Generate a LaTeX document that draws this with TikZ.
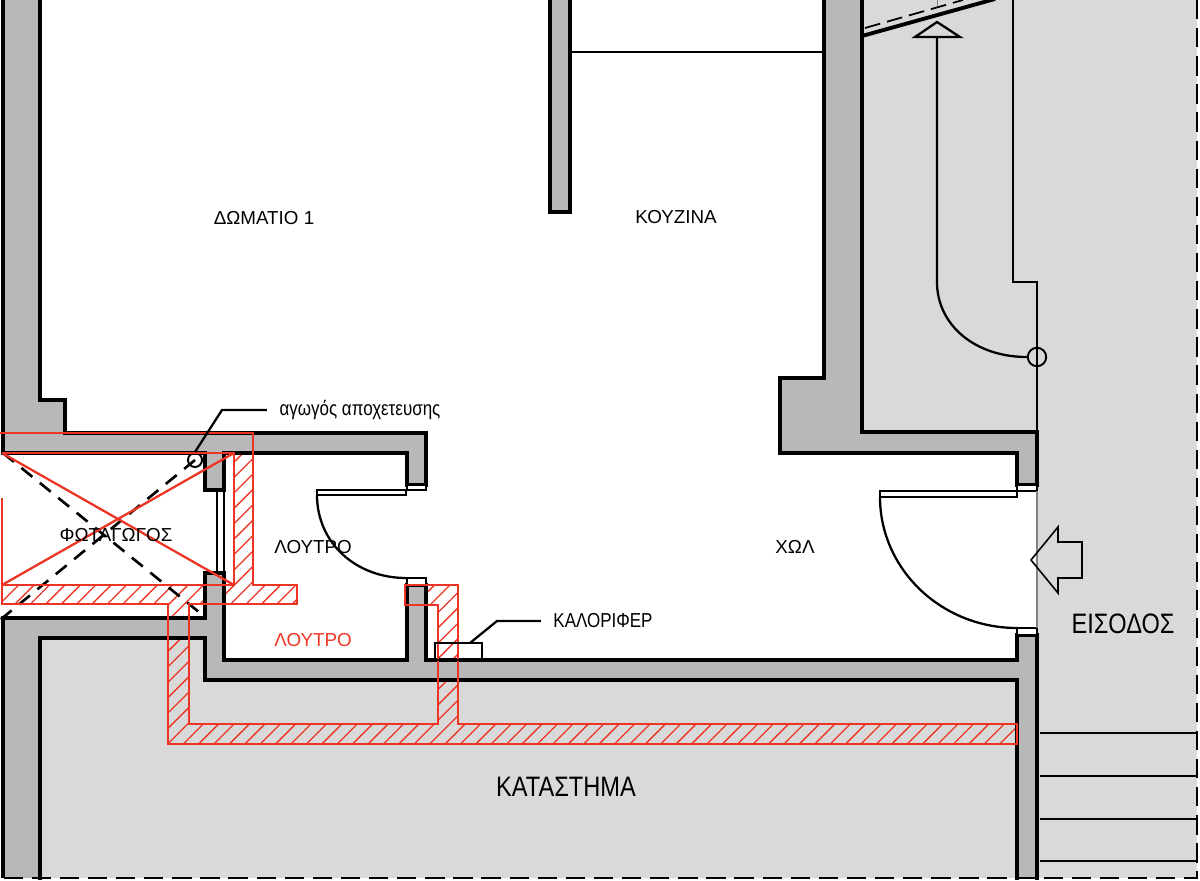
\documentclass[tikz,border=0pt]{standalone}
\usepackage{fontspec}
\setmainfont{Liberation Sans}
\newfontfamily\narrowfont[FakeStretch=0.84]{Liberation Sans}
\usepackage{tikz}
\usetikzlibrary{patterns.meta,positioning}
\definecolor{wallgray}{HTML}{B8B8B8}
\definecolor{yardgray}{HTML}{D9D9D9}
\definecolor{pipered}{HTML}{EE3424}

\begin{document}
\begin{tikzpicture}[
  x=0.02cm, y=-0.02cm,
  wallfill/.style={fill=wallgray},
  wall/.style={line width=2.8pt, line join=miter},
  thin line/.style={line width=1.3pt},
  leader/.style={line width=1.3pt},
  door/.style={line width=1.3pt, fill=white},
  boundary/.style={line width=1.6pt, dash pattern=on 11pt off 5pt},
  shaft/.style={line width=1.5pt, dash pattern=on 8pt off 5.5pt},
  hatch/.style={pattern={Lines[angle=45,distance=6.2pt,line width=0.75pt]}, pattern color=pipered},
  pipe/.style={line width=1.3pt, draw=pipered},
  room/.style={font=\fontsize{10.7}{12}\selectfont},
  note/.style={font=\narrowfont\fontsize{11.5}{13}\selectfont, inner xsep=7pt},
  big/.style={font=\narrowfont\fontsize{16}{18}\selectfont}
]
\clip (0,0) rectangle (1200,881);

% ground
\fill[yardgray] (862,0) rectangle (1197,432);
\fill[yardgray] (1037,432) rectangle (1197,878);
\fill[yardgray] (40,638) -- (205,638) -- (205,680) -- (1017,680) -- (1017,878) -- (40,878) -- cycle;

% pipe run, hatching under the walls
\path[hatch] (2,585) -- (234,585) -- (234,453) -- (253,453) -- (253,585) -- (297,585) -- (297,604)
  -- (189,604) -- (189,724) -- (438,724) -- (438,605) -- (405,605) -- (405,585) -- (458,585)
  -- (458,724) -- (1017,724) -- (1017,744) -- (168,744) -- (168,604) -- (2,604) -- cycle;

% walls
\fill[wallfill] (3,-5) -- (40,-5) -- (40,400) -- (65,400) -- (65,433) -- (426,433) -- (426,485)
  -- (407,485) -- (407,453) -- (224,453) -- (224,490) -- (205,490) -- (205,453) -- (3,453) -- cycle;
\fill[wallfill] (3,618) -- (205,618) -- (205,573) -- (224,573) -- (224,660) -- (407,660) -- (407,585)
  -- (426,585) -- (426,660) -- (1017,660) -- (1017,635) -- (1037,635) -- (1037,878) -- (1017,878)
  -- (1017,680) -- (205,680) -- (205,638) -- (40,638) -- (40,878) -- (3,878) -- cycle;
\fill[wallfill] (550,-5) rectangle (570,212);
\fill[wallfill] (824,-5) -- (862,-5) -- (862,432) -- (1037,432) -- (1037,485) -- (1017,485)
  -- (1017,453) -- (780,453) -- (780,378) -- (824,378) -- cycle;

\draw[wall] (3,-5) -- (3,453) -- (205,453) -- (205,490) -- (224,490) -- (224,453) -- (407,453) -- (407,485) -- (426,485) -- (426,433) -- (65,433) -- (65,400) -- (40,400) -- (40,-5);
\draw[wall] (3,878) -- (3,618) -- (205,618) -- (205,573) -- (224,573) -- (224,660) -- (407,660) -- (407,585) -- (426,585) -- (426,660) -- (1017,660) -- (1017,635) -- (1037,635) -- (1037,880);
\draw[wall] (40,880) -- (40,638) -- (205,638) -- (205,680) -- (1017,680) -- (1017,880);
\draw[wall] (550,-5) -- (550,212) -- (570,212) -- (570,-5);
\draw[wall] (824,-5) -- (824,378) -- (780,378) -- (780,453) -- (1017,453) -- (1017,485) -- (1037,485) -- (1037,432) -- (862,432) -- (862,-5);

% window of the shaft
\draw[line width=1.5pt] (217,490) -- (217,573);
\draw[line width=0.8pt] (224,490) -- (224,573);

% doors
\draw[door] (407,485) rectangle (426,490);
\draw[door] (407,578) rectangle (426,585);
\draw[door] (317,490) rectangle (406,495);
\draw[thin line] (317,495) .. controls (317,543) and (356,578) .. (406,578);
\draw[door] (1017,485) rectangle (1037,491);
\draw[door] (1017,628) rectangle (1037,635);
\draw[door] (880,491) rectangle (1017,497);
\draw[thin line] (880,497) .. controls (880,569) and (941,628) .. (1017,628);
\draw[line width=0.6pt, draw=gray] (1037,491) -- (1037,628);

% kitchen and stair
\draw[thin line] (570,52) -- (824,52);
\draw[line width=2.2pt] (862,36) -- (995,-1);
\draw[line width=1pt, dash pattern=on 9pt off 4pt] (865,28) -- (963,0);
\draw[line width=0.4pt, draw=gray] (937,0) -- (937,6);
\draw[thin line] (1013,0) -- (1013,282) -- (1037,282) -- (1037,432);
\draw[thin line] (915,37) -- (937,22) -- (960,37) -- cycle;
\node[circle, draw, line width=1.1pt, minimum size=10.5pt, inner sep=0pt] (post) at (1037,357) {};
\draw[thin line] (937,37) -- (937,282) .. controls (937,325) and (975,357) .. (post.west);
\draw[line width=0.9pt] (1031,560) -- (1058,527) -- (1058,542) -- (1082,542) -- (1082,578) -- (1058,578) -- (1058,593) -- cycle;
\foreach \ystep in {733,776,819,861}
  \draw[thin line] (1040,\ystep) -- (1197,\ystep);

% plot limits
\draw[boundary] (1197,0) -- (1197,878) -- (0,878);

% shaft
\draw[shaft] (3,453) -- (205,617);
\draw[shaft] (195,460) -- (0,620);
\node[circle, draw, line width=1.1pt, fill=none, minimum size=8pt, inner sep=0pt] (drain) at (195,460) {};

% pipe outlines
\draw[pipe] (2,585) -- (234,585) -- (234,453) -- (2,453);
\draw[pipe] (0,433) -- (253,433) -- (253,585) -- (297,585) -- (297,604) -- (189,604) -- (189,724)
  -- (438,724) -- (438,605) -- (405,605) -- (405,585) -- (458,585) -- (458,724) -- (1017,724)
  -- (1017,744) -- (168,744) -- (168,604) -- (2,604) -- (2,585);
\draw[pipe] (2,498) -- (2,585);
\draw[pipe] (2,453) -- (234,585);
\draw[pipe] (2,585) -- (234,453);

% radiator
\draw[thin line] (435,643) rectangle (482,660);

% labels
\node[room] (bedroom) at (264,218) {ΔΩΜΑΤΙΟ 1};
\node[room] (kitchen) at (676,217) {ΚΟΥΖΙΝΑ};
\node[room] (hall) at (795,547) {ΧΩΛ};
\node[room] (bath) at (313,547) {ΛΟΥΤΡΟ};
\node[room, text=pipered] (bathnew) at (313,640) {ΛΟΥΤΡΟ};
\node[room] (lightwell) at (116,535) {ΦΩΤΑΓΩΓΟΣ};
\node[big] (entrance) at (1123,624) {ΕΙΣΟΔΟΣ};
\node[big] (shop) at (566,787) {ΚΑΤΑΣΤΗΜΑ};
\node[note] (pipelabel) at (360,410) {αγωγός αποχετευσης};
\node[note] (radlabel) at (603,621) {ΚΑΛΟΡΙΦΕΡ};
\coordinate (radiator) at (470,643);
\draw[leader] (drain.north) -- (222,410) -- (pipelabel.west);
\draw[leader] (radiator) -- (497,621) -- (radlabel.west);
\end{tikzpicture}
\end{document}
